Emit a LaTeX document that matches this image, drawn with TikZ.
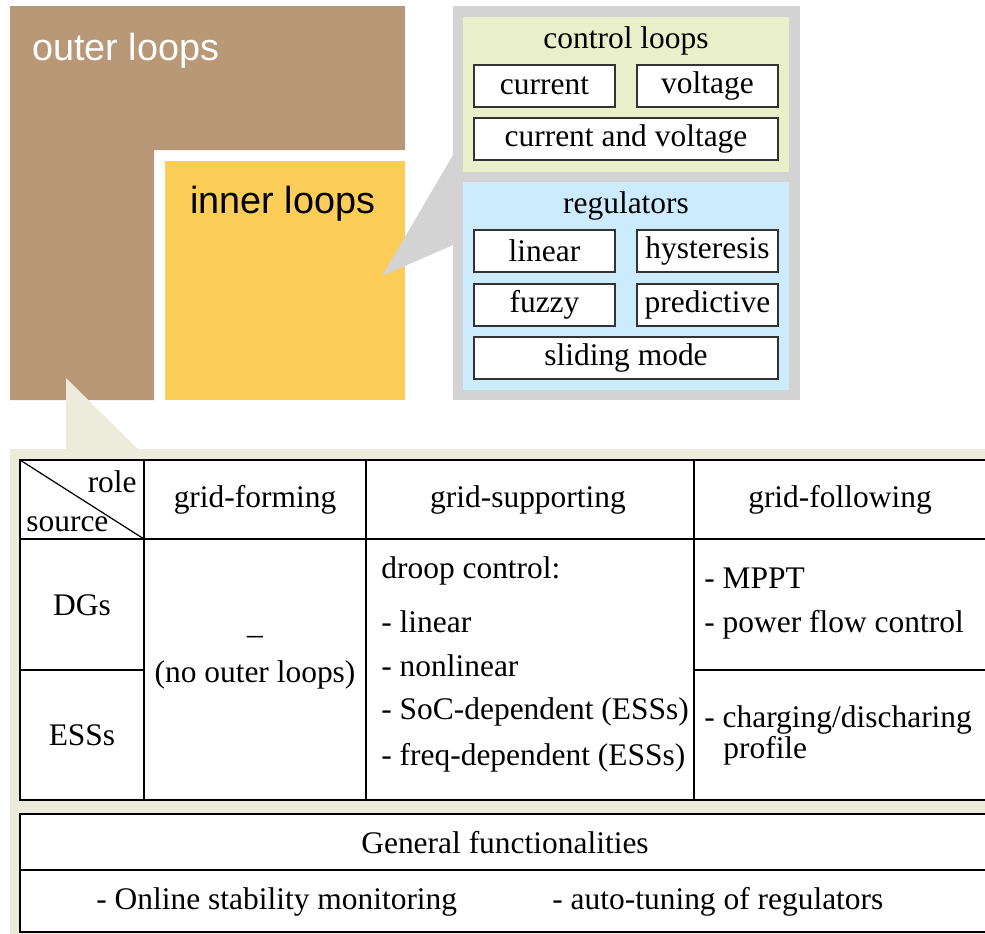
\documentclass[tikz,border=0pt]{standalone}
\usepackage{fontspec}
\setmainfont{Liberation Serif}
\newfontfamily\hv{Liberation Sans}
\definecolor{outerc}{HTML}{B89877}
\definecolor{innerc}{HTML}{FCCD57}
\definecolor{panelc}{HTML}{D3D3D3}
\definecolor{greenc}{HTML}{E8EFC9}
\definecolor{bluec}{HTML}{CCEBFC}
\definecolor{beigec}{HTML}{EDEBDB}
\definecolor{boxline}{HTML}{333333}
\tikzset{
  txt/.style={font=\fontsize{17.9}{21}\selectfont, inner sep=0pt},
  bigtxt/.style={font=\hv\fontsize{21.5}{25}\selectfont, inner sep=0pt},
  item/.style={draw=boxline, line width=0.8pt, fill=white, txt, minimum width=2.82cm, minimum height=0.84cm},
  wideitem/.style={item, minimum width=6.08cm},
  tline/.style={line width=0.9pt, black},
}
\begin{document}
\begin{tikzpicture}[x=0.02cm, y=-0.02cm]
\useasboundingbox (0,0) rectangle (985,934);
\clip (0,0) rectangle (985,934);
% outer loops L-shape
\fill[outerc] (10,6) -- (405,6) -- (405,150) -- (154,150) -- (154,400) -- (10,400) -- cycle;
\fill[innerc] (165,161) rectangle (405,400);
\node[bigtxt, text=white, anchor=base west] (outer) at (32,60) {outer loops};
\node[bigtxt, anchor=base west] (inner) at (190,213) {inner loops};
% right panel
\fill[panelc] (453,6) rectangle (800,400);
\fill[panelc] (382,276) -- (453,155) -- (453,245) -- cycle;
\fill[greenc] (463,17) rectangle (789,172);
\fill[bluec] (463,182) rectangle (789,390);
\node[txt, anchor=base] (cl) at (626,48) {control loops};
\node[item] (cur) at (544.5,86) {current};
\node[item] (vol) at (707.5,86) {voltage};
\node[wideitem] (cav) at (626,139) {current and voltage};
\node[txt, anchor=base] (reg) at (626,213) {regulators};
\node[item] (lin) at (544.5,251) {linear};
\node[item] (hys) at (707.5,251) {hysteresis};
\node[item] (fuz) at (544.5,305) {fuzzy};
\node[item] (pre) at (707.5,305) {predictive};
\node[wideitem] (sli) at (626,358) {sliding mode};
% bottom panel
\fill[beigec] (66,378) -- (66,449) -- (138,449) -- cycle;
\fill[beigec] (10,449) rectangle (1000,950);
\fill[white] (20,460) rectangle (1000,800);
\draw[tline] (1000,460) -- (20,460) -- (20,800) -- (1000,800);
\draw[tline] (20,539) -- (1000,539);
\draw[tline] (144,460) -- (144,800);
\draw[tline] (366,460) -- (366,800);
\draw[tline] (694,460) -- (694,800);
\draw[tline] (20,670) -- (144,670);
\draw[tline] (694,670) -- (1000,670);
\draw[line width=0.7pt] (20,460) -- (144,539);
\node[txt, anchor=base east] (role) at (137,492) {role};
\node[txt, anchor=base west] (source) at (26,531) {source};
\node[txt, anchor=base] (gform) at (255,507) {grid-forming};
\node[txt, anchor=base] (gsup) at (528,507) {grid-supporting};
\node[txt, anchor=base] (gfol) at (840,507) {grid-following};
\node[txt, anchor=base] (dgs) at (82,615) {DGs};
\node[txt, anchor=base] (esss) at (82,745) {ESSs};
\node[txt, anchor=center] (dash) at (255,640) {–};
\node[txt, anchor=base] (noouter) at (255,682) {(no outer loops)};
\node[txt, anchor=base west] (droop) at (381,578) {droop control:};
\node[txt, anchor=base west] (d1) at (381,632) {- linear};
\node[txt, anchor=base west] (d2) at (381,676) {- nonlinear};
\node[txt, anchor=base west] (d3) at (381,719) {- SoC-dependent (ESSs)};
\node[txt, anchor=base west] (d4) at (381,765) {- freq-dependent (ESSs)};
\node[txt, anchor=base west] (f1) at (704,588) {- MPPT};
\node[txt, anchor=base west] (f2) at (704,632) {- power flow control};
\node[txt, anchor=base west] (f3) at (704,727) {- charging/discharing};
\node[txt, anchor=base west] (f4) at (723,758) {profile};
% general functionalities
\fill[white] (20,814) rectangle (1000,932);
\draw[tline] (1000,814) -- (20,814) -- (20,932) -- (1000,932);
\draw[tline] (20,870) -- (1000,870);
\node[txt, anchor=base] (gen) at (505,853) {General functionalities};
\node[txt, anchor=base west] (g1) at (96,909) {- Online stability monitoring};
\node[txt, anchor=base west] (g2) at (552,909) {- auto-tuning of regulators};
\end{tikzpicture}
\end{document}
